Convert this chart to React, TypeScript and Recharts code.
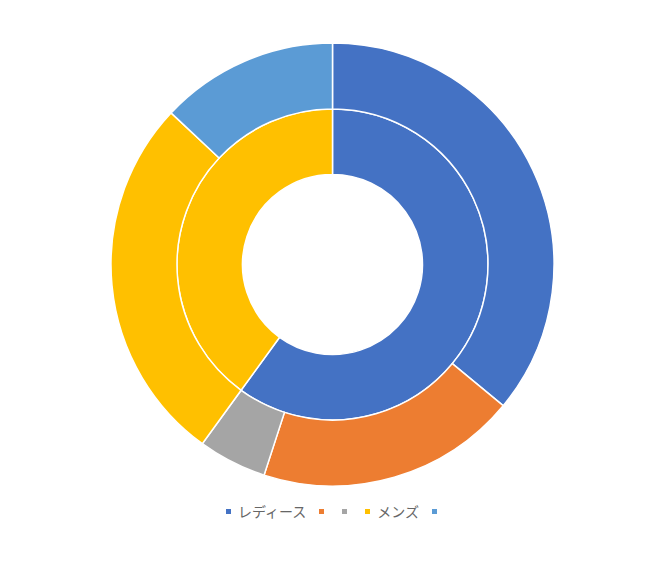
import { PieChart, Pie, Cell, Legend } from "recharts";

const categories = ["レディース", "", "", "メンズ", ""];
const outerValues = [36, 19, 5, 27, 13];
const innerValues = [60, 0, 0, 40, 0];
const COLORS = ["#4472C4", "#ED7D31", "#A5A5A5", "#FFC000", "#5B9BD5"];

const outerData = categories.map((name, i) => ({ name, value: outerValues[i], color: COLORS[i] }));
const innerData = categories
  .map((name, i) => ({ name, value: innerValues[i], color: COLORS[i] }))
  .filter((d) => d.value > 0);

function LegendBox() {
  return (
    <div
      style={{
        display: "flex",
        justifyContent: "center",
        alignItems: "center",
        fontFamily: '"Noto Sans CJK JP", "Noto Sans", sans-serif',
        fontSize: 14,
        color: "#666666",
        lineHeight: "16px",
      }}
    >
      {categories.map((name, i) => (
        <div key={`lg-${i}`} style={{ display: "flex", alignItems: "center", marginRight: i < categories.length - 1 ? 13 : 0 }}>
          <span style={{ width: 5, height: 5, background: COLORS[i], display: "inline-block" }} />
          {name ? <span style={{ marginLeft: 7 }}>{name}</span> : <span style={{ marginLeft: 5 }} />}
        </div>
      ))}
    </div>
  );
}

export default function App() {
  return (
    <div style={{ position: "absolute", left: 0, top: 0, width: 668, height: 567, background: "#fff" }}>
      <PieChart width={668} height={567} margin={{ top: 0, right: 0, bottom: 0, left: 0 }}>
        <Pie
          data={innerData}
          dataKey="value"
          cx={332.5}
          cy={264.5}
          innerRadius={90}
          outerRadius={155.5}
          startAngle={90}
          endAngle={-270}
          stroke="#fff"
          strokeWidth={1.5}
          isAnimationActive={false}
        >
          {innerData.map((d, i) => (
            <Cell key={`in-${i}`} fill={d.color} />
          ))}
        </Pie>
        <Pie
          data={outerData}
          dataKey="value"
          cx={332.5}
          cy={264.5}
          innerRadius={155.5}
          outerRadius={221.5}
          startAngle={90}
          endAngle={-270}
          stroke="#fff"
          strokeWidth={1.5}
          isAnimationActive={false}
        >
          {outerData.map((d, i) => (
            <Cell key={`out-${i}`} fill={d.color} />
          ))}
        </Pie>
        <Legend
          content={() => <LegendBox />}
          wrapperStyle={{ position: "absolute", top: 503, bottom: "auto", left: 0, width: 668 }}
        />
      </PieChart>
    </div>
  );
}
